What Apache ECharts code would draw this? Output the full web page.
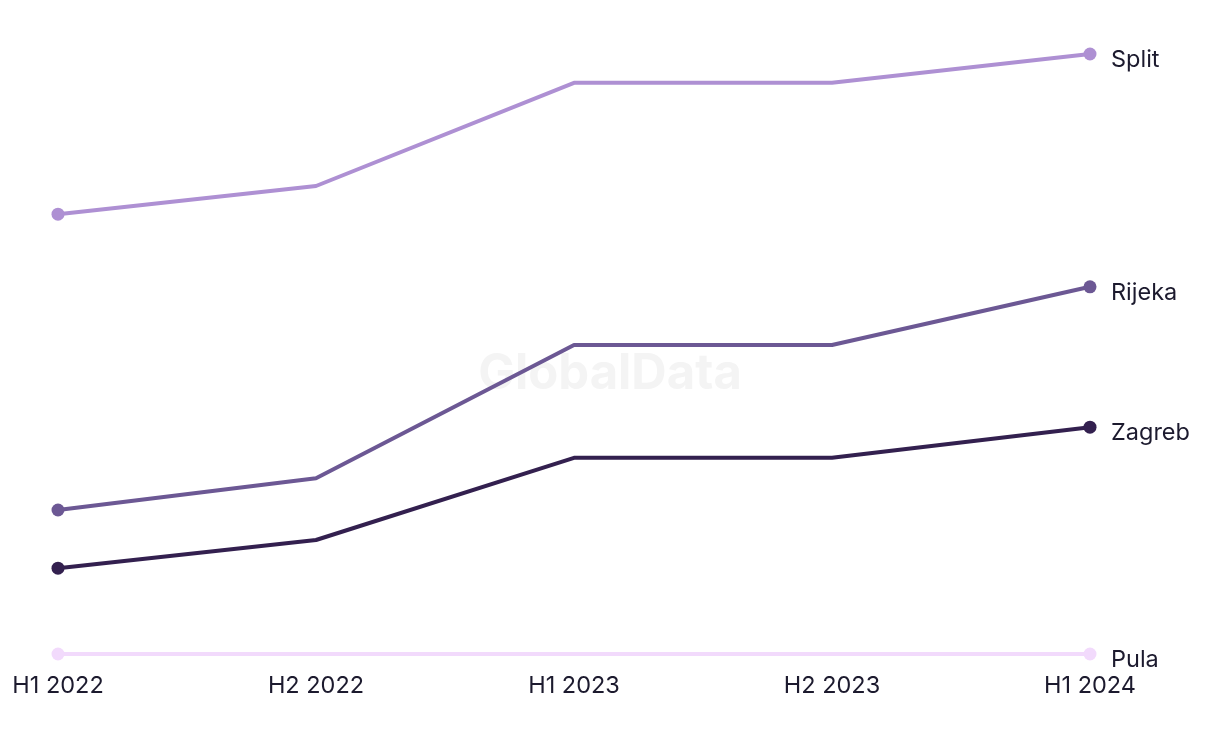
<!DOCTYPE html>
<html>
<head>
<meta charset="utf-8">
<script src="https://cdn.jsdelivr.net/npm/echarts@6/dist/echarts.min.js"></script>
<style>
  html, body { margin: 0; padding: 0; background: #fff; }
  #chart { width: 1220px; height: 744px; }
</style>
</head>
<body>
<div id="chart"></div>
<script>
const periods = ['H1 2022', 'H2 2022', 'H1 2023', 'H2 2023', 'H1 2024']

// relative values (no y axis shown)
const split = [73.3, 78, 95.2, 95.2, 100]
const rijeka = [24, 29.3, 51.5, 51.5, 61.2]
const zagreb = [14.3, 19, 32.7, 32.7, 37.8]
const pula = [0, 0, 0, 0, 0]

const cities = [
  { name: 'Split', data: split, color: '#ae90d3' },
  { name: 'Rijeka', data: rijeka, color: '#6c5894' },
  { name: 'Zagreb', data: zagreb, color: '#33204f' },
  { name: 'Pula', data: pula, color: '#f2dafc' }
]

const chart = echarts.init(document.getElementById('chart'))

const textColor = '#1c1a2e'
const font = 'Inter, "Noto Sans", sans-serif'

chart.setOption({
  animation: false,
  graphic: [{
    type: 'text',
    left: 'center',
    top: 350,
    style: {
      text: 'GlobalData',
      fill: '#f4f4f4',
      font: 'bold 49px ' + font
    },
    z: -1
  }],
  grid: { left: 58, right: 130, top: 54, bottom: 90 },
  xAxis: {
    type: 'category',
    data: periods,
    boundaryGap: false,
    axisLine: { show: false },
    axisTick: { show: false },
    axisLabel: {
      color: textColor,
      fontSize: 23.5,
      fontFamily: font,
      margin: 20
    }
  },
  yAxis: {
    type: 'value',
    min: 0,
    max: 100,
    show: false,
    splitLine: { show: false }
  },
  series: cities.map(c => ({
    name: c.name,
    type: 'line',
    data: c.data,
    color: c.color,
    symbol: 'circle',
    symbolSize: (v, p) => (p.dataIndex === 0 || p.dataIndex === c.data.length - 1) ? 13 : 0,
    lineStyle: { width: 4, color: c.color },
    itemStyle: { color: c.color },
    endLabel: {
      show: true,
      formatter: c.name,
      color: textColor,
      fontSize: 23.5,
      fontFamily: font,
      distance: 21,
      offset: [0, 6]
    }
  }))
})
</script>
</body>
</html>
